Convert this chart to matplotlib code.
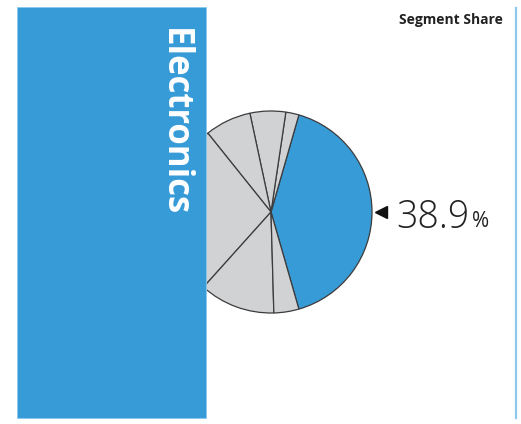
import matplotlib.pyplot as plt
import matplotlib.patches as patches

segment = "Electronics"
share_label = "38.9"
# slice sizes, highlighted slice first, then counterclockwise
slices = [41.1, 2.1, 5.7, 7.4, 27.6, 12.1, 4.0]
slice_colors = ["#379bd7"] + ["#d1d2d4"] * 6

W, H = 521, 424
fig = plt.figure(figsize=(W / 100, H / 100), dpi=100)
ax = fig.add_axes([0, 0, 1, 1])

# pie, highlighted slice centred on the pointer
start = -slices[0] / sum(slices) * 360 / 2
ax.pie(slices, colors=slice_colors, center=(271, 212), radius=101,
       startangle=start, counterclock=True,
       wedgeprops=dict(edgecolor="#3c3c3c", linewidth=0.9), frame=True)
ax.set_xlim(0, W)
ax.set_ylim(0, H)
ax.set_aspect("equal")
ax.axis("off")

# blue category panel covering the left part of the pie
panel = patches.Rectangle((16.5, 6), 189, 411, facecolor="#379bd7",
                          edgecolor="#8cc8ee", linewidth=0.6, zorder=5)
ax.add_patch(panel)
ax.text(191.5, 396, segment, rotation=-90, color="white", fontsize=25,
        fontweight="bold", family="Open Sans", ha="left", va="top",
        rotation_mode="anchor", zorder=6)

# pointer and value
ax.plot([381], [212], marker="<", color="#111111", markersize=8.5, zorder=6)
ax.text(396, 196, share_label, fontsize=27, color="#222222",
        family="Open Sans", fontweight="light", ha="left", va="baseline")
ax.text(472, 197, "%", fontsize=15, color="#222222",
        family="Open Sans", ha="left", va="baseline")

ax.text(503, 400, "Segment Share", fontsize=10, fontweight="bold",
        family="Open Sans", color="#222222", ha="right", va="baseline")
ax.plot([515.5, 515.5], [6, 416], color="#8cc8ee", linewidth=1.6)

fig.savefig("out.png", dpi=100)
